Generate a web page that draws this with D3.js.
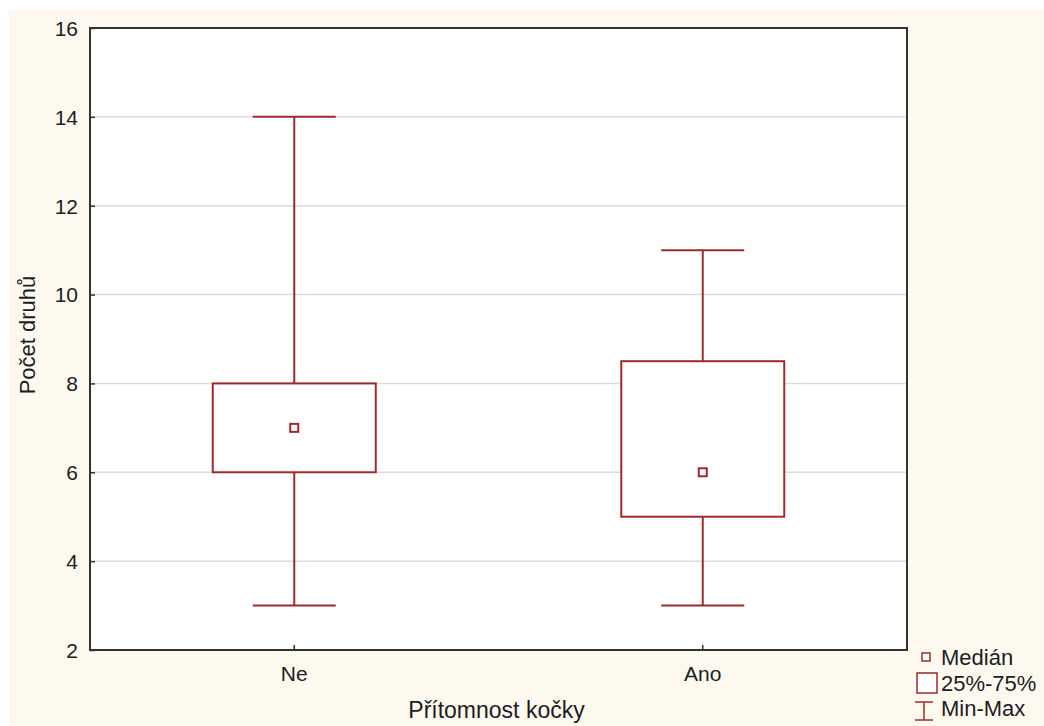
<!DOCTYPE html>
<html><head><meta charset="utf-8">
<script src="https://cdn.jsdelivr.net/npm/d3@7"></script>
<style>body{margin:0;background:#fff}svg{display:block}text{font-family:"Liberation Sans",Arial,sans-serif}</style>
</head><body>
<script>
const categories = ["Ne", "Ano"];
const minVals = [3, 3];
const q1Vals = [6, 5];
const medianVals = [7, 6];
const q3Vals = [8, 8.5];
const maxVals = [14, 11];
const yTicks = [2, 4, 6, 8, 10, 12, 14, 16];
const legendLabels = ["Medián", "25%-75%", "Min-Max"];

const W = 1044, H = 726;
const m = {left: 90, top: 28, right: 907, bottom: 650};
const col = "#9e2b2b";
const txt = "#1c1c24";
const svg = d3.select("body").append("svg").attr("width", W).attr("height", H);
svg.append("rect").attr("x", 9).attr("y", 10).attr("width", W - 9).attr("height", H - 10).attr("fill", "#fef9ef");
svg.append("rect").attr("x", m.left).attr("y", m.top).attr("width", m.right - m.left).attr("height", m.bottom - m.top).attr("fill", "#fff");

const x = d3.scaleBand().domain(categories).range([m.left, m.right]);
const y = d3.scaleLinear().domain([2, 16]).range([m.bottom, m.top]);

// grid
svg.append("g").selectAll("line").data(yTicks.slice(1, -1)).join("line")
  .attr("x1", m.left).attr("x2", m.right).attr("y1", d => y(d)).attr("y2", d => y(d))
  .attr("stroke", "#dcdcdc").attr("stroke-width", 1.5);

const data = categories.map((c, i) => ({c, min: minVals[i], q1: q1Vals[i], med: medianVals[i], q3: q3Vals[i], max: maxVals[i]}));
const bw = 163, cw = 83;
const g = svg.append("g").selectAll("g").data(data).join("g")
  .attr("transform", d => `translate(${x(d.c) + x.bandwidth() / 2},0)`);
g.append("line").attr("x1", 0).attr("x2", 0).attr("y1", d => y(d.max)).attr("y2", d => y(d.q3)).attr("stroke", col).attr("stroke-width", 2);
g.append("line").attr("x1", 0).attr("x2", 0).attr("y1", d => y(d.q1)).attr("y2", d => y(d.min)).attr("stroke", col).attr("stroke-width", 2);
g.append("line").attr("x1", -cw / 2).attr("x2", cw / 2).attr("y1", d => y(d.max)).attr("y2", d => y(d.max)).attr("stroke", col).attr("stroke-width", 2);
g.append("line").attr("x1", -cw / 2).attr("x2", cw / 2).attr("y1", d => y(d.min)).attr("y2", d => y(d.min)).attr("stroke", col).attr("stroke-width", 2);
g.append("rect").attr("x", -bw / 2).attr("width", bw).attr("y", d => y(d.q3)).attr("height", d => y(d.q1) - y(d.q3))
  .attr("fill", "#fff").attr("stroke", col).attr("stroke-width", 2);
g.append("rect").attr("x", -4).attr("width", 8).attr("y", d => y(d.med) - 4).attr("height", 8)
  .attr("fill", "#fff").attr("stroke", col).attr("stroke-width", 2);

// frame
svg.append("rect").attr("x", m.left).attr("y", m.top).attr("width", m.right - m.left).attr("height", m.bottom - m.top)
  .attr("fill", "none").attr("stroke", "#333").attr("stroke-width", 2);

// axes
const ya = svg.append("g").attr("transform", `translate(${m.left},0)`)
  .call(d3.axisLeft(y).tickValues(yTicks).tickSize(-5).tickPadding(12).tickFormat(d3.format("d")));
ya.select(".domain").remove();
ya.selectAll("line").attr("stroke", "#333").attr("stroke-width", 1.5);
ya.selectAll("text").attr("font-size", 21).attr("fill", txt).attr("dy", "0.35em");

const xa = svg.append("g").attr("transform", `translate(0,${m.bottom})`)
  .call(d3.axisBottom(x).tickSize(-5).tickPadding(16));
xa.select(".domain").remove();
xa.selectAll("line").attr("stroke", "#333").attr("stroke-width", 1.5);
xa.selectAll("text").attr("font-size", 21).attr("fill", txt);

svg.append("text").attr("x", (m.left + m.right) / 2 - 2).attr("y", 718).attr("text-anchor", "middle")
  .attr("font-size", 23).attr("fill", txt).text("Přítomnost kočky");
svg.append("text").attr("transform", `translate(35,335) rotate(-90)`).attr("text-anchor", "middle")
  .attr("font-size", 22).attr("fill", txt).text("Počet druhů");

// legend
const lg = svg.append("g");
lg.append("rect").attr("x", 922).attr("y", 653).attr("width", 8).attr("height", 8).attr("fill", "#fff").attr("stroke", col).attr("stroke-width", 1.5);
lg.append("rect").attr("x", 917).attr("y", 673).attr("width", 20).attr("height", 20).attr("fill", "#fff").attr("stroke", col).attr("stroke-width", 1.5);
lg.append("line").attr("x1", 915).attr("x2", 933).attr("y1", 702).attr("y2", 702).attr("stroke", col).attr("stroke-width", 1.5);
lg.append("line").attr("x1", 915).attr("x2", 933).attr("y1", 720).attr("y2", 720).attr("stroke", col).attr("stroke-width", 1.5);
lg.append("line").attr("x1", 924).attr("x2", 924).attr("y1", 702).attr("y2", 720).attr("stroke", col).attr("stroke-width", 1.5);
lg.selectAll("text").data(legendLabels).join("text")
  .attr("x", 941).attr("y", (d, i) => 665 + i * 25.5).attr("font-size", 22).attr("fill", txt).text(d => d);
</script>
</body></html>
